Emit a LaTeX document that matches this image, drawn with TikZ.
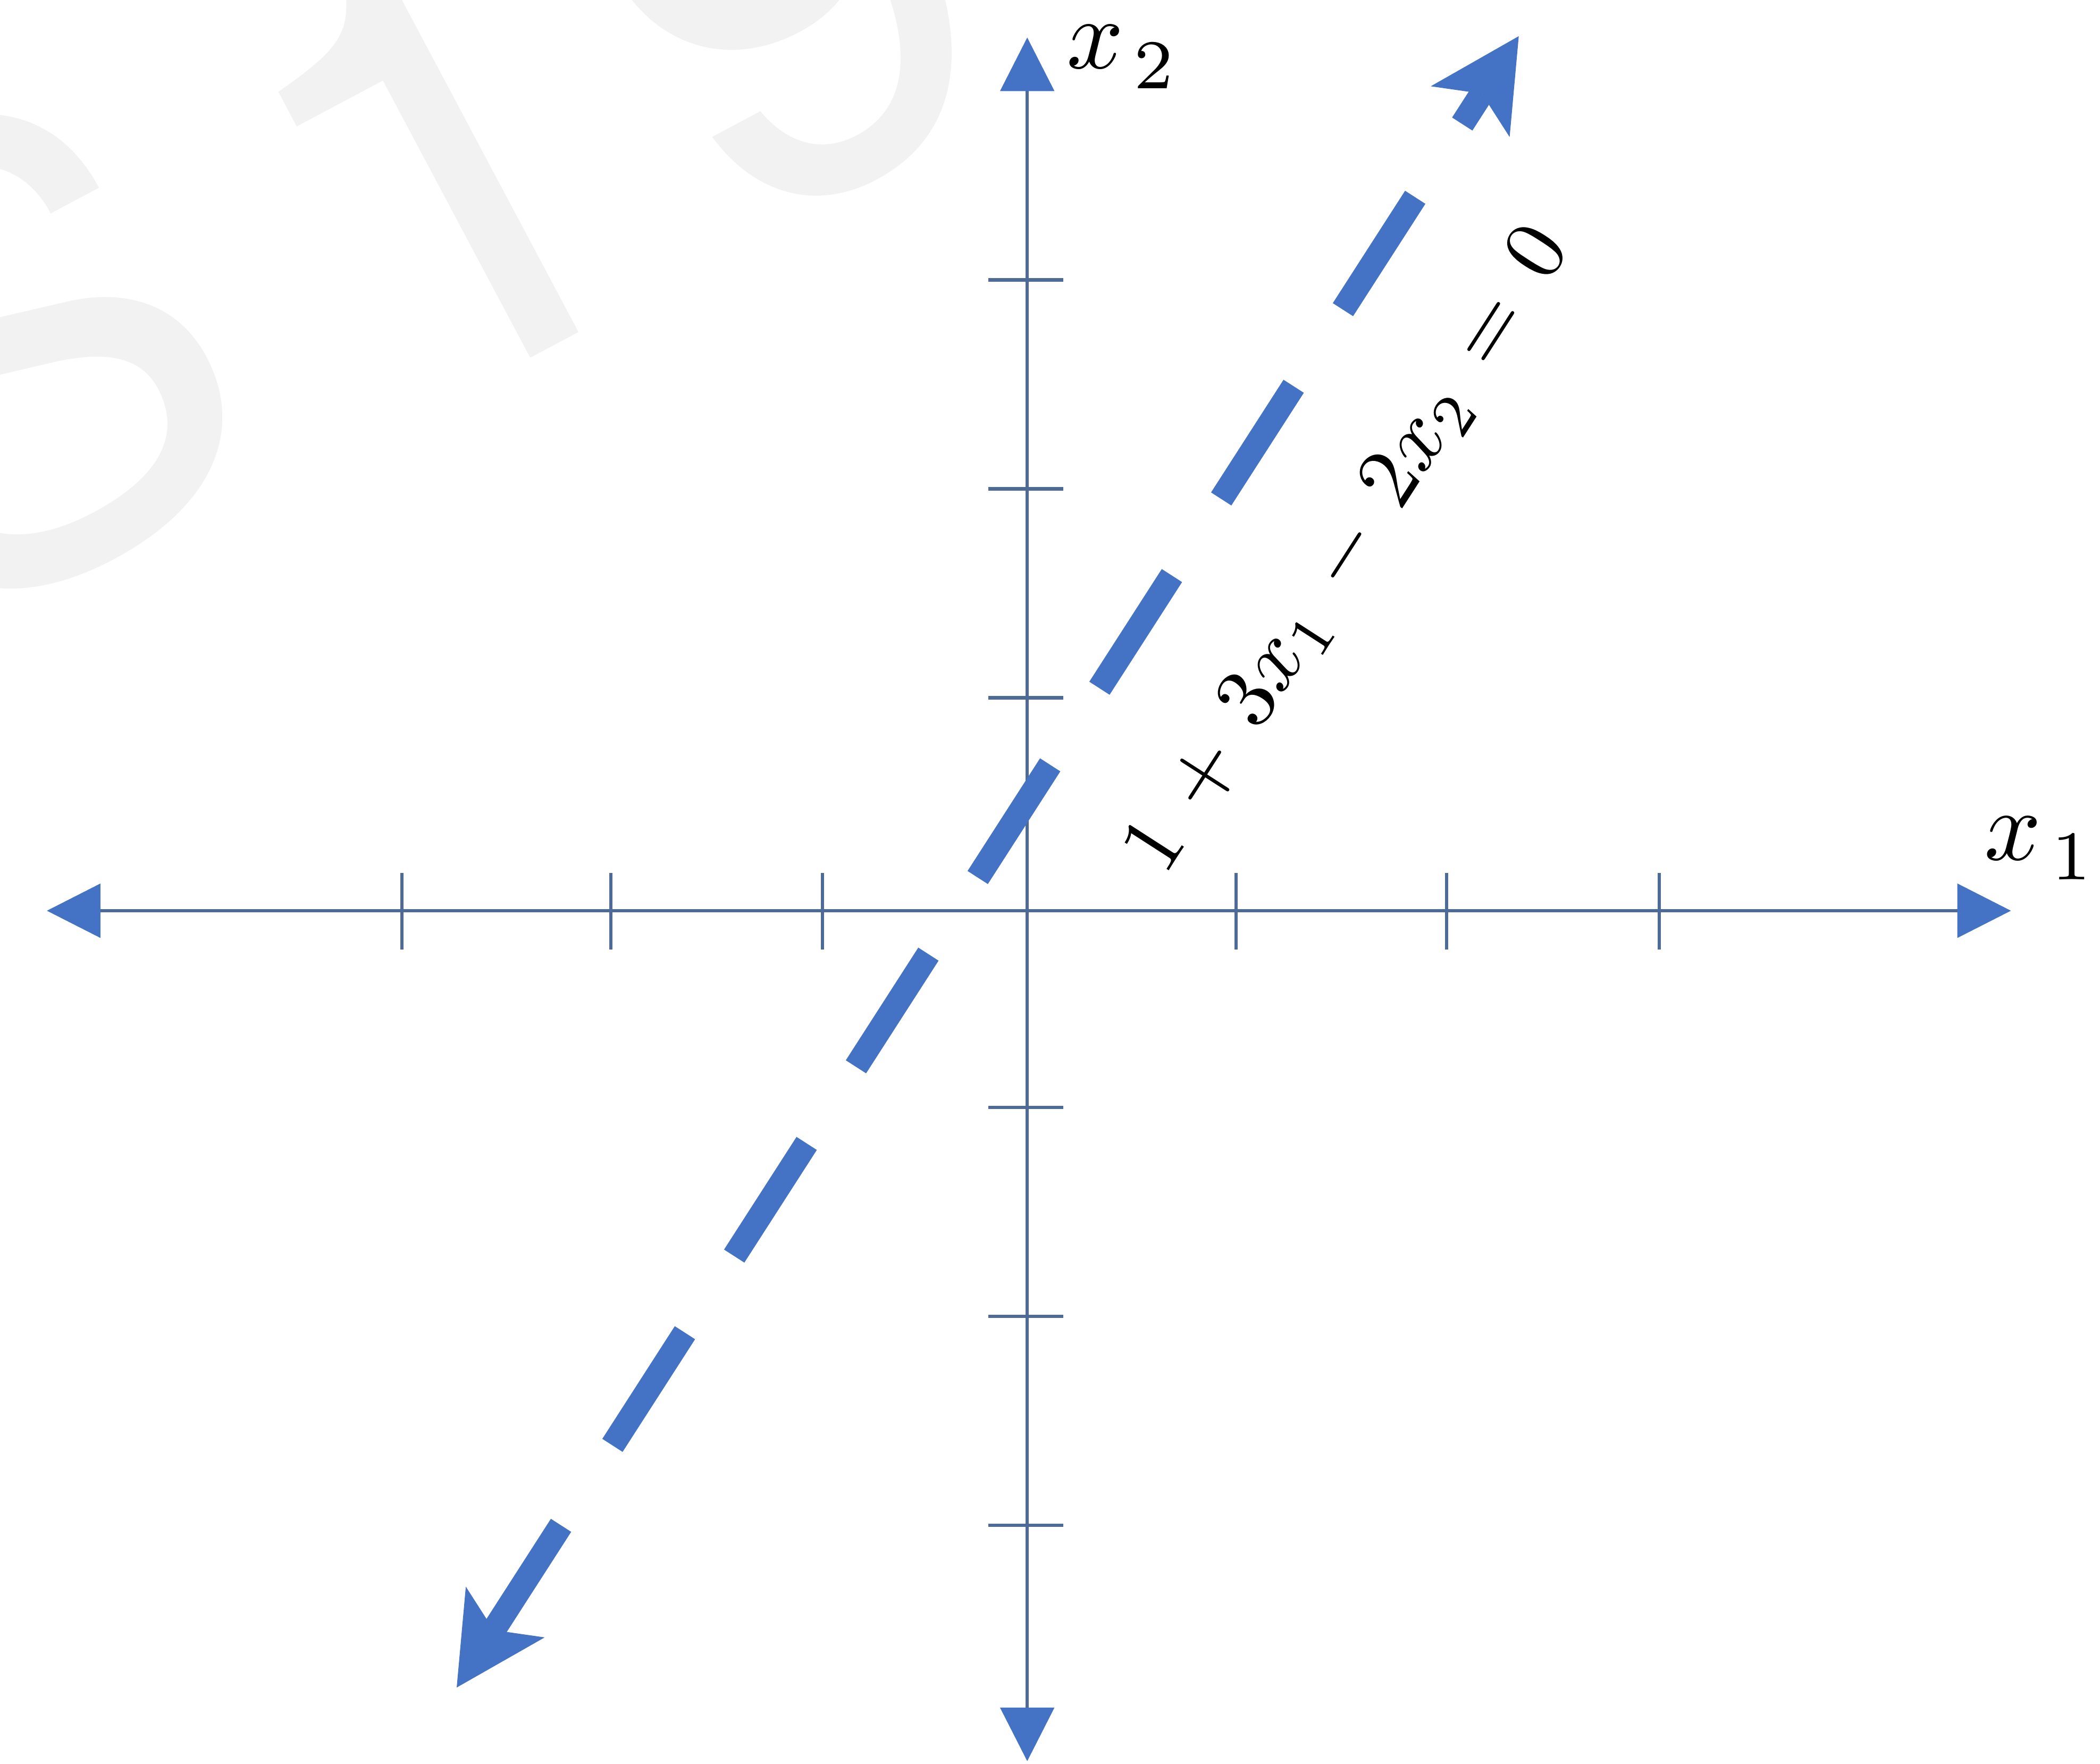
\documentclass[tikz,border=0pt]{standalone}
\usepackage{fontspec}
\newfontfamily\wmfont{TeX Gyre Heros}
\usetikzlibrary{arrows.meta}
\definecolor{dashblue}{HTML}{4472C4}
\definecolor{axiscol}{HTML}{4E6A96}
\definecolor{wmgray}{HTML}{F2F2F2}
\tikzset{
  axisline/.style={draw=axiscol, line width=0.065cm,
    {Triangle[length=1cm,width=1cm,color=dashblue]}-{Triangle[length=1cm,width=1cm,color=dashblue]}},
  tickline/.style={draw=axiscol, line width=0.06cm},
  dashline/.style={draw=dashblue, line width=0.45cm, dash pattern=on 2.5cm off 1.7cm},
  headline/.style={draw=dashblue, line width=0.45cm,
    -{Stealth[length=1.675cm,width=1.75cm,inset=0.4cm,line width=0pt]}},
  axislabel/.style={inner sep=0pt, anchor=base west, scale=5.3},
  eqlabel/.style={inner sep=0pt, scale=4.6, rotate=57.2},
  wmark/.style={inner sep=0pt, anchor=base, rotate=28, text=wmgray,
    font=\wmfont\fontsize{330}{330}\selectfont},
}
\begin{document}
\begin{tikzpicture}[x=0.025cm,y=-0.025cm]
\useasboundingbox (0,0) rectangle (1568,1317);
% faint watermark
\node[wmark] (wmS) at (80,411) {S};
\node[wmark] (wm1) at (404,263) {1};
\node[wmark] (wm9) at (661,123) {9};
% axes
\coordinate (xl) at (35,680);
\coordinate (xr) at (1501.5,680);
\coordinate (yt) at (767,28);
\coordinate (yb) at (767,1315);
\draw[axisline] (xl) -- (xr);
\draw[axisline] (yb) -- (yt);
% ticks on x1 axis
\foreach \tx in {300,456,614,923,1080,1239}
  \draw[tickline] (\tx,652) -- (\tx,709);
% ticks on x2 axis
\foreach \ty in {209,365,521,827,983,1139}
  \draw[tickline] (738,\ty) -- (794,\ty);
% axis labels
\node[axislabel] (lx2) at (795,51) {$x\hspace{1pt}\raisebox{-2pt}{$\scriptstyle 2$}$};
\node[axislabel] (lx1) at (1480,642) {$x\hspace{1pt}\raisebox{-2pt}{$\scriptstyle 1$}$};
% dashed line 1 + 3x1 - 2x2 = 0
\coordinate (lowtip) at (341,1260);
\coordinate (uptip) at (1134,27);
\coordinate (lowend) at (418.9,1138.9);
\coordinate (dstart) at (457.3,1079.2);
\coordinate (dend) at (1056.7,147.3);
\coordinate (upend) at (1091.8,92.6);
\draw[dashline] (dstart) -- (dend);
\draw[headline] (lowend) -- (lowtip);
\draw[headline] (upend) -- (uptip);
% equation label
\node[eqlabel] (eq) at (1007.5,411.5) {\medmuskip=6.5mu \thickmuskip=7.5mu $1+3x_1-2x_2=0$};
\end{tikzpicture}
\end{document}
